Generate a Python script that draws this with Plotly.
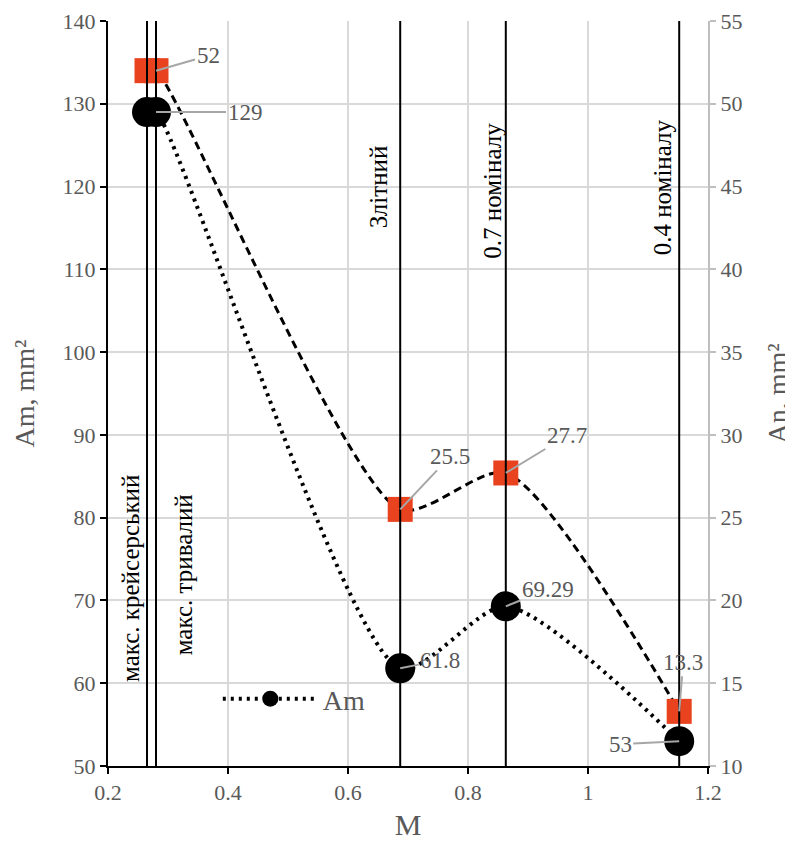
import plotly.graph_objects as go

# ---- data ----
m_values = [0.265, 0.28, 0.687, 0.863, 1.152]
am_values = [129, 129, 61.8, 69.29, 53]
an_values = [52, 52, 25.5, 27.7, 13.3]

am_label_points = [1, 2, 3, 4]
am_labels = ["129", "61.8", "69.29", "53"]
am_label_offsets = [(89, 0), (40, -8), (42, -17), (-59, 3)]

an_label_points = [1, 2, 3, 4]
an_labels = ["52", "25.5", "27.7", "13.3"]
an_label_offsets = [(52, -15), (50, -53), (61, -37), (4, -49)]

vline_x = [0.265, 0.28, 0.687, 0.863, 1.152]
vline_labels = ["макс. крейсерський", "макс. тривалий", "Злітний", "0.7 номіналу", "0.4 номіналу"]
vline_label_shift = [-17, 27, -22, -13, -17]
vline_label_y = [0.251, 0.256, 0.777, 0.772, 0.777]

FONT = "Liberation Serif"
GRAY = "#595959"

fig = go.Figure()

fig.add_trace(go.Scatter(
    x=m_values, y=am_values, name="Am", mode="lines+markers",
    line=dict(color="black", width=4, dash="3px,5px", shape="spline", smoothing=0.7),
    marker=dict(symbol="circle", size=30, color="black"),
    yaxis="y", showlegend=True,
))
fig.add_trace(go.Scatter(
    x=m_values, y=an_values, name="An", mode="lines+markers",
    line=dict(color="black", width=3, dash="8px,5px", shape="spline", smoothing=0.7),
    marker=dict(symbol="square", size=25, color="#E8431E"),
    yaxis="y2", showlegend=False,
))

shapes = [dict(type="rect", xref="paper", yref="paper", x0=0.153, x1=0.457, y0=0.035, y1=0.149,
               fillcolor="white", line=dict(width=0), layer="between")]
annotations = []
for x, lab, sh, ly in zip(vline_x, vline_labels, vline_label_shift, vline_label_y):
    shapes.append(dict(type="line", xref="x", yref="paper", x0=x, x1=x, y0=0, y1=1,
                       line=dict(color="black", width=2), layer="above"))
    annotations.append(dict(x=x, y=ly, xref="x", yref="paper", text=lab, textangle=-90,
                            showarrow=False, xshift=sh, xanchor="center", yanchor="middle",
                            font=dict(family=FONT, size=25, color="black")))

for idx, lab, (ax, ay) in zip(am_label_points, am_labels, am_label_offsets):
    annotations.append(dict(x=m_values[idx], y=am_values[idx], xref="x", yref="y", text=lab,
                            showarrow=True, arrowhead=0, arrowwidth=2, arrowcolor="#a6a6a6",
                            ax=ax, ay=ay, standoff=0,
                            font=dict(family=FONT, size=23, color=GRAY)))
for idx, lab, (ax, ay) in zip(an_label_points, an_labels, an_label_offsets):
    annotations.append(dict(x=m_values[idx], y=an_values[idx], xref="x", yref="y2", text=lab,
                            showarrow=True, arrowhead=0, arrowwidth=2, arrowcolor="#a6a6a6",
                            ax=ax, ay=ay, standoff=0,
                            font=dict(family=FONT, size=23, color=GRAY)))

fig.update_layout(
    width=785, height=833,
    margin=dict(l=100, r=85, t=13, b=75),
    paper_bgcolor="white", plot_bgcolor="white",
    font=dict(family=FONT, size=22, color=GRAY),
    xaxis=dict(range=[0.2, 1.2], dtick=0.2, showgrid=True, gridcolor="#d9d9d9", gridwidth=2,
               showline=True, linecolor="black", linewidth=2, ticks="outside", ticklen=6,
               tickcolor="black", tickwidth=2, zeroline=False, automargin=False,
               title=dict(text="M", font=dict(size=30, color=GRAY), standoff=14),
               tickfont=dict(size=22, color=GRAY)),
    yaxis=dict(range=[50, 140], dtick=10, showgrid=True, gridcolor="#d9d9d9", gridwidth=2,
               showline=True, linecolor="black", linewidth=2, ticks="outside", ticklen=6,
               tickcolor="black", tickwidth=2, zeroline=False, automargin=False,
               title=dict(text="Am, mm²", font=dict(size=28, color=GRAY), standoff=20),
               tickfont=dict(size=22, color=GRAY)),
    yaxis2=dict(range=[10, 55], dtick=5, overlaying="y", side="right", showgrid=False,
                showline=True, linecolor="#bfbfbf", linewidth=2, ticks="outside", ticklen=6,
                tickcolor="#bfbfbf", tickwidth=2, zeroline=False, automargin=False,
                title=dict(text="An, mm²", font=dict(size=28, color=GRAY), standoff=28),
                tickfont=dict(size=22, color=GRAY)),
    legend=dict(x=0.183, y=0.09, xanchor="left", yanchor="middle", bgcolor="rgba(0,0,0,0)",
                font=dict(family=FONT, size=28, color=GRAY), itemwidth=95,
                borderwidth=0),
    shapes=shapes, annotations=annotations,
)

fig.write_html("out.html")
